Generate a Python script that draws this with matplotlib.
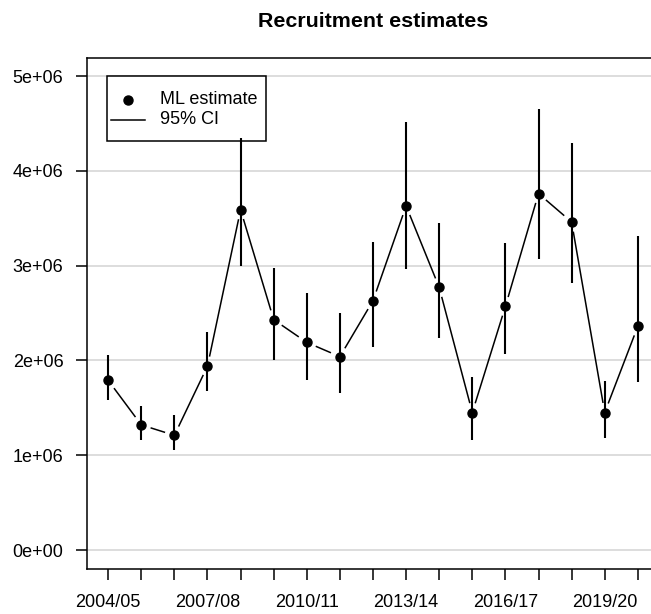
import numpy as np
import matplotlib
matplotlib.use("Agg")
import matplotlib.pyplot as plt
from matplotlib.patches import Rectangle

SEASONS = ["2004/05", "2005/06", "2006/07", "2007/08", "2008/09", "2009/10",
           "2010/11", "2011/12", "2012/13", "2013/14", "2014/15", "2015/16",
           "2016/17", "2017/18", "2018/19", "2019/20", "2020/21"]
ESTIMATE = [1.79e6, 1.32e6, 1.21e6, 1.94e6, 3.59e6, 2.43e6, 2.19e6, 2.04e6, 2.63e6,
            3.63e6, 2.77e6, 1.45e6, 2.57e6, 3.76e6, 3.46e6, 1.45e6, 2.36e6]
CI_LOW = [1.58e6, 1.16e6, 1.05e6, 1.68e6, 3.00e6, 2.00e6, 1.79e6, 1.66e6, 2.14e6,
          2.96e6, 2.24e6, 1.16e6, 2.07e6, 3.07e6, 2.82e6, 1.18e6, 1.77e6]
CI_HIGH = [2.06e6, 1.52e6, 1.42e6, 2.30e6, 4.35e6, 2.97e6, 2.71e6, 2.50e6, 3.25e6,
           4.51e6, 3.45e6, 1.82e6, 3.24e6, 4.65e6, 4.29e6, 1.78e6, 3.31e6]
Y_TICKS = [0, 1e6, 2e6, 3e6, 4e6, 5e6]
Y_LABELS = ["0e+00", "1e+06", "2e+06", "3e+06", "4e+06", "5e+06"]
LEGEND_LABELS = ["ML estimate", "95% CI"]

plt.rcParams["font.family"] = ["Liberation Sans", "DejaVu Sans"]

W, H = 651, 614
fig = plt.figure(figsize=(W / 100, H / 100), dpi=100)
ax = fig.add_axes([87 / W, 45 / H, 572 / W, 511 / H])

x = np.arange(1, len(SEASONS) + 1)
ax.set_xlim(0.36, 17.64)
ax.set_ylim(-0.2e6, 5.19e6)

ax.set_yticks(Y_TICKS)
ax.set_yticklabels(Y_LABELS)
ax.set_xticks(x)
ax.set_xticklabels([s if i % 3 == 0 else "" for i, s in enumerate(SEASONS)])
for yv in Y_TICKS:
    ax.axhline(yv, color="#d3d3d3", lw=1.1, zorder=0)

# R-style type="b": connecting segments stop short of each point
gap = 10.5
pts = ax.transData.transform(np.column_stack([x, ESTIMATE]))
inv = ax.transData.inverted()
for p0, p1 in zip(pts[:-1], pts[1:]):
    d = p1 - p0
    L = np.hypot(*d)
    if L <= 2 * gap:
        continue
    u = d / L
    seg = inv.transform(np.array([p0 + u * gap, p1 - u * gap]))
    ax.plot(seg[:, 0], seg[:, 1], color="black", lw=1.1, zorder=2)

ax.vlines(x, CI_LOW, CI_HIGH, color="black", lw=1.5, zorder=3)
ax.plot(x, ESTIMATE, "o", color="black", ms=6.5, zorder=4)

ax.tick_params(axis="both", length=8, width=1.1, labelsize=13, color="black")
ax.tick_params(axis="y", pad=9)
ax.tick_params(axis="x", pad=10)
for sp in ax.spines.values():
    sp.set_linewidth(1.1)
    sp.set_color("black")

# legend box, laid out in pixel offsets from the axes corner
def px(xp, yp):
    return ((xp - 87) / 572, (569 - yp) / 511)

x0, y0 = px(107, 141)
x1, y1 = px(266, 76)
ax.add_patch(Rectangle((x0, y0), x1 - x0, y1 - y0, transform=ax.transAxes,
                       facecolor="white", edgecolor="black", lw=1.1, zorder=1))
mx, my = px(128, 100)
ax.plot([mx], [my], "o", color="black", ms=6.5, transform=ax.transAxes, zorder=6)
lx0, ly = px(111, 120)
lx1, _ = px(145, 120)
ax.plot([lx0, lx1], [ly, ly], color="black", lw=1.1, transform=ax.transAxes, zorder=6)
for label, yp in zip(LEGEND_LABELS, [100, 120]):
    tx, ty = px(160, yp)
    ax.text(tx, ty, label, transform=ax.transAxes, fontsize=13, va="center",
            ha="left", zorder=6)

ax.set_title("Recruitment estimates", fontsize=15.4, fontweight="bold", pad=22)

fig.savefig("out.png", dpi=100)
